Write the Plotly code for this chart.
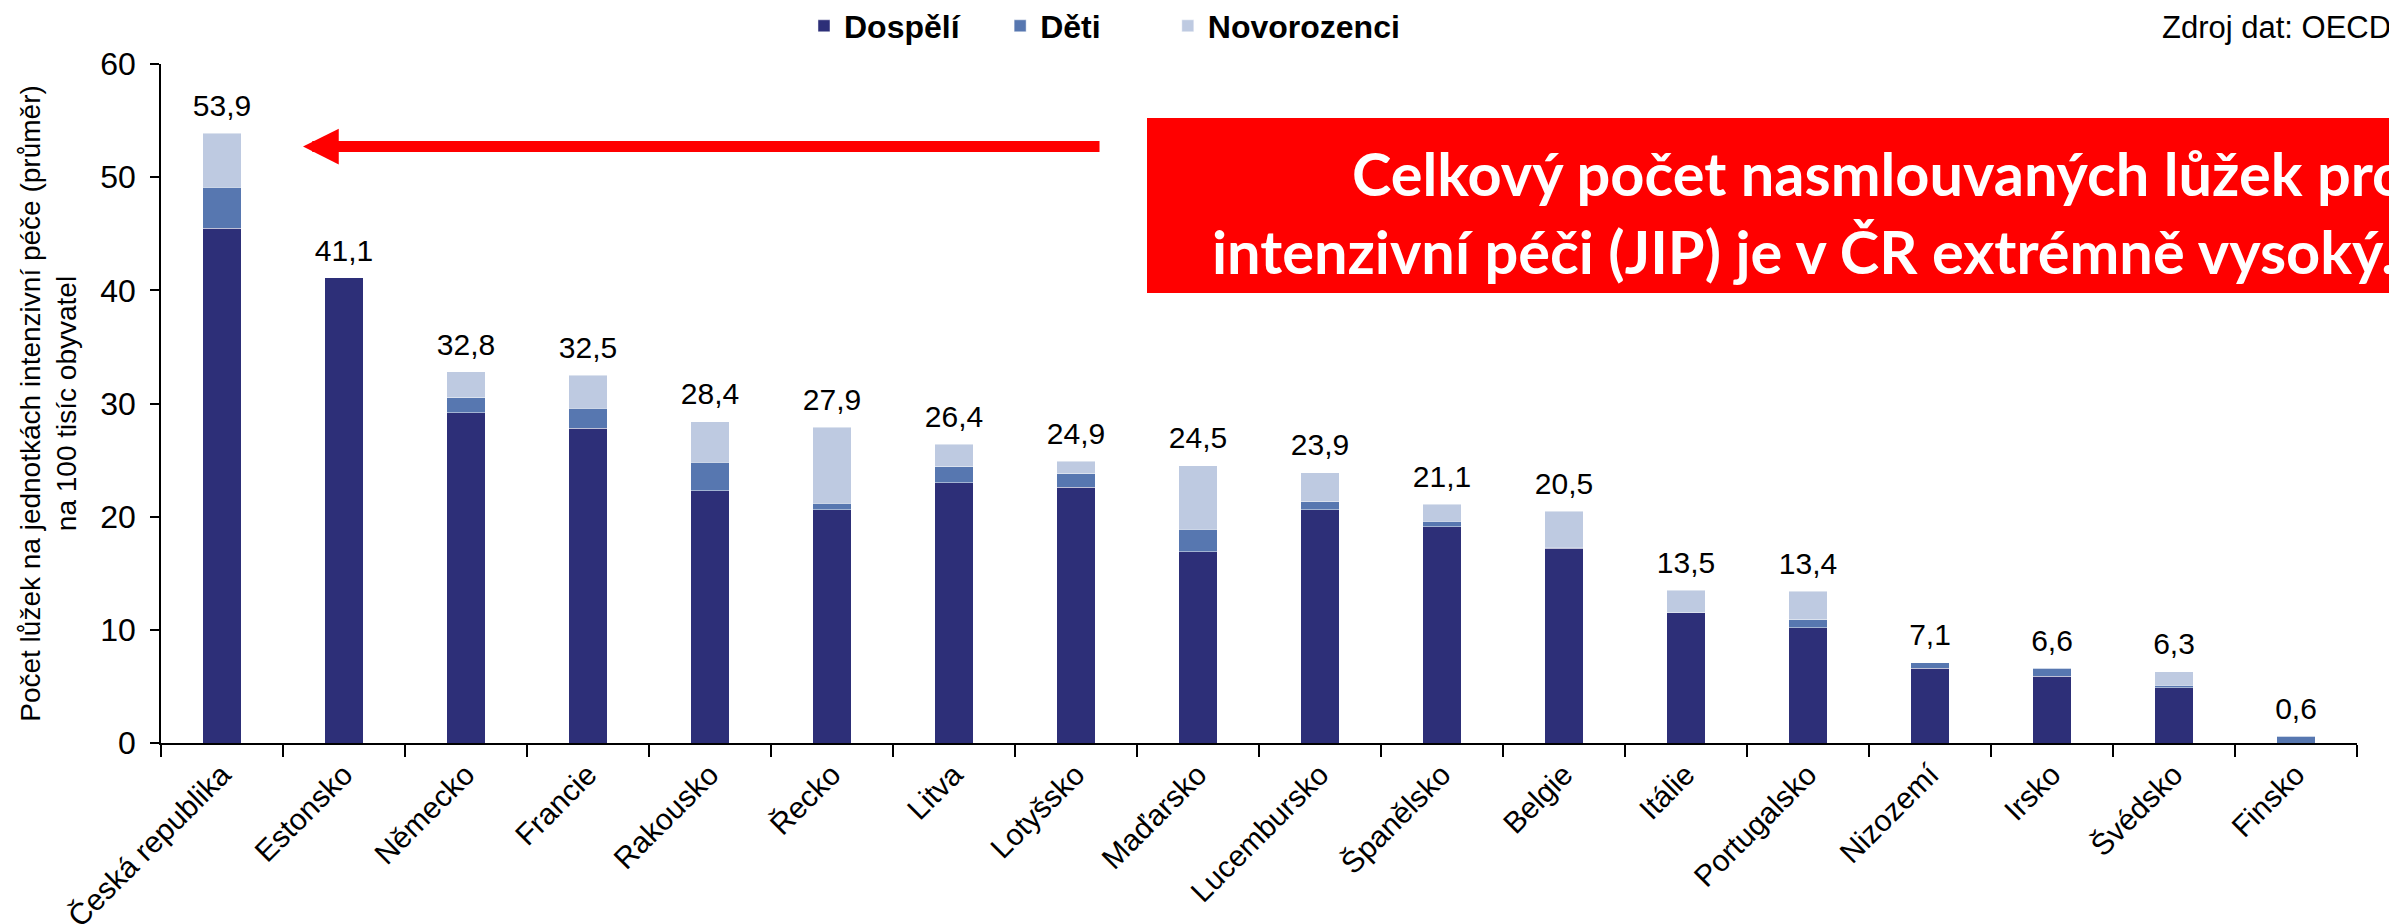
import plotly.graph_objects as go

# data (OECD) - luzka JIP na 100 tisic obyvatel
zeme = ["Česká republika", "Estonsko", "Německo", "Francie", "Rakousko", "Řecko",
        "Litva", "Lotyšsko", "Maďarsko", "Lucembursko", "Španělsko", "Belgie",
        "Itálie", "Portugalsko", "Nizozemí", "Irsko", "Švédsko", "Finsko"]
dospeli = [45.5, 41.1, 29.2, 27.8, 22.3, 20.6, 23.0, 22.6, 16.9, 20.6, 19.1, 17.2,
           11.5, 10.2, 6.6, 5.9, 4.9, 0.0]
deti = [3.6, 0.0, 1.3, 1.8, 2.5, 0.6, 1.4, 1.2, 2.0, 0.7, 0.5, 0.1,
        0.0, 0.7, 0.5, 0.7, 0.2, 0.6]
novorozenci = [4.8, 0.0, 2.3, 2.9, 3.6, 6.7, 2.0, 1.1, 5.6, 2.6, 1.5, 3.2,
               2.0, 2.5, 0.0, 0.0, 1.2, 0.0]

FONT = "Liberation Sans, Arial, sans-serif"
NB = "\u00a0"  # mezera v legende


def main():
    celkem = [round(a + b + c, 1) for a, b, c in zip(dospeli, deti, novorozenci)]

    fig = go.Figure()
    edge = dict(color="rgba(255,255,255,0.45)", width=1)
    fig.add_trace(go.Bar(x=zeme, y=dospeli, name="Dospělí" + NB * 4,
                         marker=dict(color="#2D2F78", line=edge)))
    fig.add_trace(go.Bar(x=zeme, y=deti, name="Děti" + NB * 7,
                         marker=dict(color="#5777B0", line=edge)))
    fig.add_trace(go.Bar(x=zeme, y=novorozenci, name="Novorozenci",
                         marker=dict(color="#BECAE1", line=edge)))
    # popisky se soucty nad sloupci
    fig.add_trace(go.Scatter(x=zeme, y=celkem, mode="markers+text",
                             text=[f"{v:.1f}".replace(".", ",") for v in celkem],
                             textposition="top center",
                             textfont=dict(size=30, color="black", family=FONT),
                             marker=dict(size=14, color="rgba(0,0,0,0)"),
                             showlegend=False, hoverinfo="skip"))

    # stranka ma 8px okraj -> figura o 8px mensi
    fig.update_layout(
        barmode="stack",
        bargap=0.686,
        width=2389, height=916,
        margin=dict(l=153, r=40, t=56, b=181, autoexpand=False),
        plot_bgcolor="white",
        paper_bgcolor="white",
        separators=", ",
        font=dict(family=FONT, size=30, color="black"),
        legend=dict(orientation="h", x=0.2928, xanchor="left",
                    y=1 - 18 / 916, yanchor="middle", yref="container",
                    font=dict(size=32, weight="bold"),
                    traceorder="normal"),
        showlegend=True,
    )
    fig.update_xaxes(range=[-0.5, 17.5], automargin=False,
                     showline=True, linecolor="black", linewidth=2,
                     ticks="outside", tickson="boundaries", ticklen=12, tickwidth=2,
                     tickcolor="black", tickangle=-45,
                     tickfont=dict(size=30, family=FONT), showgrid=False)
    fig.update_yaxes(range=[0, 60], dtick=10, automargin=False,
                     showline=True, linecolor="black",
                     linewidth=1.5, ticks="outside", ticklen=9, tickwidth=1.5,
                     tickcolor="black", showgrid=False, zeroline=False,
                     tickfont=dict(size=32, family=FONT), ticklabelstandoff=8,
                     title=dict(text="Počet lůžek na jednotkách intenzivní péče (průměr)<br>na 100 tisíc obyvatel",
                                font=dict(size=28, family=FONT), standoff=15))

    # cerveny box s komentarem
    fig.add_shape(type="rect", xref="paper", yref="paper",
                  x0=0.449, x1=1.05, y0=0.6627, y1=0.9205,
                  fillcolor="#FF0000", line=dict(width=0), layer="above")
    fig.add_annotation(xref="paper", yref="paper", x=1.0232, y=0.839,
                       xanchor="right", yanchor="middle",
                       text="<b>Celkový počet nasmlouvaných lůžek pro</b>",
                       showarrow=False,
                       font=dict(family="Lato, sans-serif", size=59.5, color="white"))
    fig.add_annotation(xref="paper", yref="paper", x=1.0182, y=0.724,
                       xanchor="right", yanchor="middle",
                       text="<b>intenzivní péči (JIP) je v ČR extrémně vysoký.</b>",
                       showarrow=False,
                       font=dict(family="Lato, sans-serif", size=59.5, color="white"))
    # sipka na CR
    fig.add_annotation(x=0.664, y=52.7, xref="x", yref="y", text="",
                       showarrow=True, arrowhead=2, arrowsize=0.65, arrowwidth=11,
                       arrowcolor="#FF0000", ax=798, ay=0, standoff=0)

    fig.add_annotation(xref="paper", yref="paper", x=1.0165, y=1.054,
                       xanchor="right", yanchor="middle", showarrow=False,
                       text="Zdroj dat: OECD", font=dict(size=31, family=FONT))

    fig.write_html("out.html")


if __name__ == "__main__":
    main()
